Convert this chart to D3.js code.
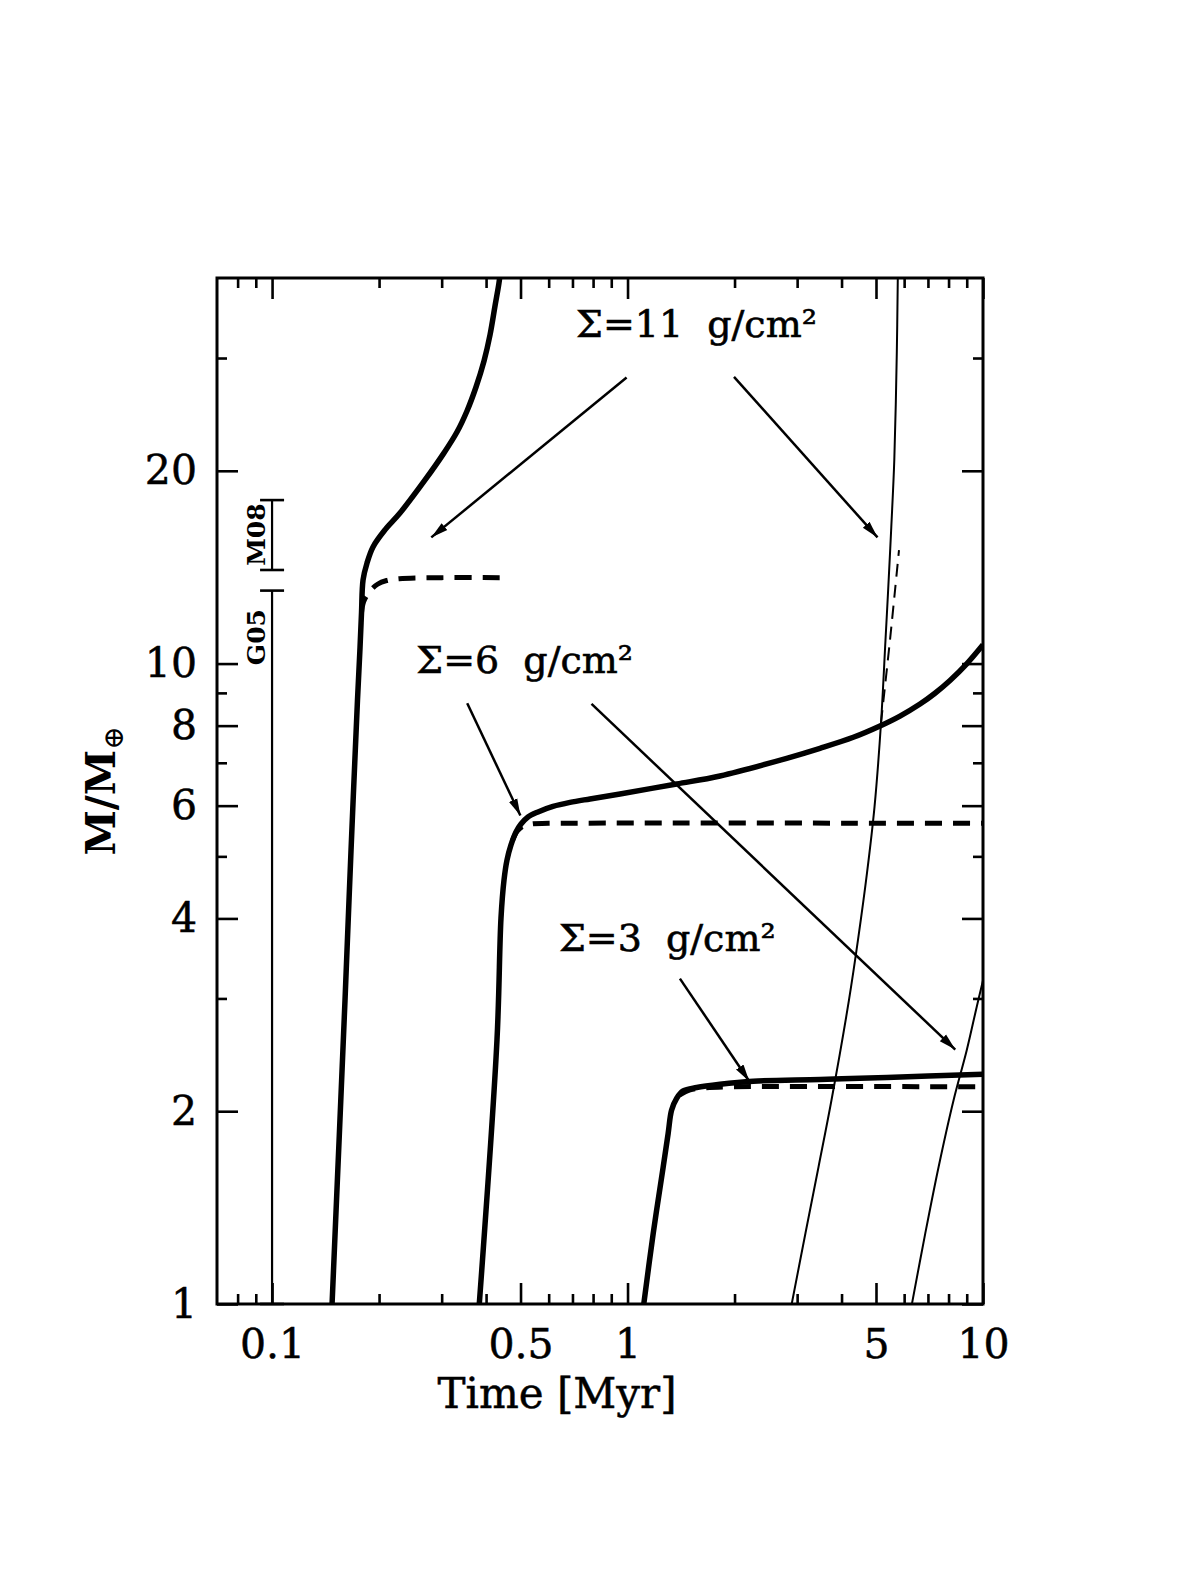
<!DOCTYPE html>
<html>
<head>
<meta charset="utf-8">
<script src="https://cdn.jsdelivr.net/npm/d3@7"></script>
<style>
  body { margin: 0; background: #fff; }
  svg text { font-family: "DejaVu Serif", serif; fill: #000; }
</style>
</head>
<body>
<div id="chart"></div>
<script>
// core mass vs time, log-log
const width = 1192,
    height = 1587,
    margin = ({ top: 278, right: 209, bottom: 283, left: 217 });

// tick values
const xMajor = [0.1, 0.5, 1, 5, 10];
const xMinor = [0.08, 0.09, 0.2, 0.3, 0.4, 0.6, 0.7, 0.8, 0.9, 2, 3, 4, 6, 7, 8, 9];
const yMajor = [1, 2, 4, 6, 8, 10, 20];
const yMinor = [3, 5, 7, 9, 30];

// [time in Myr, M/Mearth]
const core11 = [[0.1475,1],[0.1604,2.98],[0.1668,5.12],[0.1739,8.77],[0.1768,10.6],[0.1785,12.0],[0.1803,13.51],[0.1850,14.36],[0.1923,15.21],[0.2078,16.17],[0.2290,17.18],[0.2694,19.35],[0.3046,21.33],[0.3313,22.99],[0.3535,24.8],[0.3748,27.03],[0.3947,29.68],[0.4103,32.59],[0.4238,36.17],[0.4349,39.29],[0.4391,41.2]];
const core11Dash = [[0.1785,12.0],[0.181,12.5],[0.188,12.95],[0.198,13.3],[0.210,13.48],[0.228,13.57],[0.30,13.62],[0.437,13.62]];
const core6 = [[0.3828,1],[0.4293,2.584],[0.4406,4.006],[0.4493,4.592],[0.4581,4.935],[0.4701,5.209],[0.4856,5.458],[0.5016,5.617],[0.5248,5.761],[0.56,5.866],[0.6171,5.983],[0.689,6.07],[0.7842,6.147],[0.9524,6.258],[1.3747,6.487],[1.8203,6.676],[2.8041,7.114],[3.4787,7.374],[4.3161,7.672],[5.1315,7.99],[5.8412,8.28],[6.65,8.647],[7.3267,8.989],[8.0755,9.41],[8.9993,9.99],[10,10.7]];
const core6Dash = [[0.475,5.3],[0.49,5.48],[0.51,5.58],[0.54,5.62],[0.6,5.63],[10,5.63]];
const core3 = [[1.111,1],[1.181,1.289],[1.26,1.637],[1.301,1.846],[1.33,2.007],[1.374,2.094],[1.434,2.151],[1.565,2.178],[1.82,2.204],[2.258,2.228],[3.48,2.242],[5.365,2.258],[10,2.285]];
const core3Dash = [[1.40,2.12],[1.5,2.16],[1.65,2.175],[1.9,2.183],[10,2.183]];
const far11 = [[2.8964,1],[3.1671,1.2909],[3.4457,1.6368],[3.7483,2.0822],[4.1977,2.9837],[4.4497,3.7018],[4.7172,4.7098],[4.9523,5.9726],[5.1648,8.0757],[5.3174,10.885],[5.4043,12.89],[5.521,16.343],[5.6293,20.795],[5.7212,30.55],[5.7585,40]];
const far11Dash = [[5.1648,8.0757],[5.249,8.773],[5.4747,10.885],[5.8035,15.04]];
const far6 = [[6.31,1],[6.88,1.289],[7.50,1.637],[8.264,2.081],[9.0,2.49],[9.6,2.91],[10,3.2]];

// annotations (data coordinates)
const arrows = [
  { from: [0.994, 27.97], to: [0.2805, 15.74] },
  { from: [1.993, 28.04], to: [5.05, 15.74] },
  { from: [0.354, 8.67], to: [0.4995, 5.79] },
  { from: [0.792, 8.65], to: [8.356, 2.496] },
  { from: [1.404, 3.222], to: [2.2, 2.228] }
];
const sigmaLabels = [
  { text: "Σ=11  g/cm²", at: [1.563, 32.3] },
  { text: "Σ=6  g/cm²", at: [0.5136, 9.65] },
  { text: "Σ=3  g/cm²", at: [1.294, 3.554] }
];
const obsBars = [
  { name: "G05", t: 0.1, lo: 1, hi: 13, labelAt: 11.0 },
  { name: "M08", t: 0.1, lo: 14, hi: 18, labelAt: 15.9 }
];

const svg = d3.select("#chart")
    .append("svg")
    .attr("width", width)
    .attr("height", height);

svg.append("rect").attr("width", width).attr("height", height).attr("fill", "#fff");

let x = d3.scaleLog()
    .domain([0.07, 10])
    .range([margin.left, width - margin.right]);

let y = d3.scaleLog()
    .domain([1, 40])
    .range([height - margin.bottom, margin.top]);

svg.append("defs").append("clipPath").attr("id", "plot")
  .append("rect")
    .attr("x", margin.left).attr("y", margin.top)
    .attr("width", width - margin.left - margin.right)
    .attr("height", height - margin.top - margin.bottom);

svg.append("defs").append("marker")
    .attr("id", "head")
    .attr("viewBox", "-17 -6 17 12")
    .attr("refX", 0).attr("refY", 0)
    .attr("markerWidth", 17).attr("markerHeight", 12)
    .attr("markerUnits", "userSpaceOnUse")
    .attr("orient", "auto")
  .append("path")
    .attr("d", "M-17,-4.5L0,0L-17,4.5Z")
    .attr("fill", "#000");

// ticks on all four sides, pointing inward
function ticks(axis, pos, vals, size, fmt) {
  let g = svg.append("g")
    .attr("transform", pos)
    .call(axis.tickValues(vals).tickSize(-size).tickSizeOuter(0).tickFormat(fmt || ""));
  g.attr("font-family", "DejaVu Serif").attr("font-size", 41);
  g.select(".domain").remove();
  g.selectAll("line").attr("stroke-width", 2.6);
  g.selectAll("text").attr("stroke", "#000").attr("stroke-width", 0.5);
  return g;
}
const fmt = d3.format("");
ticks(d3.axisBottom(x).tickPadding(25), `translate(0,${height - margin.bottom})`, xMajor, 21, fmt);
ticks(d3.axisBottom(x), `translate(0,${height - margin.bottom})`, xMinor, 10);
ticks(d3.axisTop(x), `translate(0,${margin.top})`, xMajor, 21);
ticks(d3.axisTop(x), `translate(0,${margin.top})`, xMinor, 10);
ticks(d3.axisLeft(y).tickPadding(20), `translate(${margin.left},0)`, yMajor, 21, fmt);
ticks(d3.axisLeft(y), `translate(${margin.left},0)`, yMinor, 10);
ticks(d3.axisRight(y), `translate(${width - margin.right},0)`, yMajor, 21);
ticks(d3.axisRight(y), `translate(${width - margin.right},0)`, yMinor, 10);

// frame
svg.append("rect")
    .attr("x", margin.left).attr("y", margin.top)
    .attr("width", width - margin.left - margin.right)
    .attr("height", height - margin.top - margin.bottom)
    .attr("fill", "none")
    .attr("stroke", "#000")
    .attr("stroke-width", 3);

// axis labels
svg.append("text")
    .attr("x", 557).attr("y", 1408)
    .attr("text-anchor", "middle")
    .attr("stroke", "#000").attr("stroke-width", 0.5)
    .style("font-size", "42px")
    .text("Time [Myr]");

let yl = svg.append("text")
    .attr("transform", `translate(115,${(margin.top + height - margin.bottom) / 2}) rotate(-90)`)
    .attr("text-anchor", "middle")
    .style("font-size", "41px")
    .style("font-weight", "bold");
yl.append("tspan").text("M/M");
yl.append("tspan").attr("dy", 8).style("font-size", "28px").style("font-weight", "normal").text("⊕");

// observational ranges at 0.1 Myr
for (let b of obsBars) {
  let g = svg.append("g").attr("stroke", "#000");
  g.append("line")
    .attr("x1", x(b.t)).attr("x2", x(b.t))
    .attr("y1", y(b.lo)).attr("y2", y(b.hi))
    .attr("stroke-width", 2.2);
  for (let v of [b.lo, b.hi]) {
    g.append("line")
      .attr("x1", x(b.t) - 12).attr("x2", x(b.t) + 12)
      .attr("y1", y(v)).attr("y2", y(v))
      .attr("stroke-width", 2.6);
  }
  svg.append("text")
    .attr("transform", `translate(${x(b.t) - 7},${y(b.labelAt)}) rotate(-90)`)
    .attr("text-anchor", "middle")
    .style("font-size", "25px")
    .style("font-weight", "bold")
    .text(b.name);
}

let line = d3.line()
    .x(d => x(d[0]))
    .y(d => y(d[1]))
    .curve(d3.curveCatmullRom.alpha(0.5));

const plot = svg.append("g").attr("clip-path", "url(#plot)");

const series = [
  { d: core11, w: 5.5 }, { d: core11Dash, w: 5, dash: "17,11" },
  { d: core6, w: 5.5 }, { d: core6Dash, w: 5, dash: "17,11" },
  { d: core3, w: 5.5 }, { d: core3Dash, w: 5, dash: "17,11" },
  { d: far11, w: 2 }, { d: far11Dash, w: 2, dash: "13,8" },
  { d: far6, w: 2 }
];
for (let s of series) {
  plot.append("path")
    .datum(s.d)
    .attr("d", line)
    .attr("fill", "none")
    .attr("stroke", "#000")
    .attr("stroke-width", s.w)
    .attr("stroke-dasharray", s.dash || null)
    .attr("stroke-linejoin", "round");
}

// arrows and Σ labels
svg.append("g").selectAll("line")
  .data(arrows)
  .join("line")
    .attr("x1", d => x(d.from[0])).attr("y1", d => y(d.from[1]))
    .attr("x2", d => x(d.to[0])).attr("y2", d => y(d.to[1]))
    .attr("stroke", "#000")
    .attr("stroke-width", 2.5)
    .attr("marker-end", "url(#head)");

svg.append("g").selectAll("text")
  .data(sigmaLabels)
  .join("text")
    .attr("x", d => x(d.at[0])).attr("y", d => y(d.at[1]))
    .attr("text-anchor", "middle")
    .attr("stroke", "#000").attr("stroke-width", 0.6)
    .style("font-size", "38px")
    .style("white-space", "pre")
    .text(d => d.text);
</script>
</body>
</html>
